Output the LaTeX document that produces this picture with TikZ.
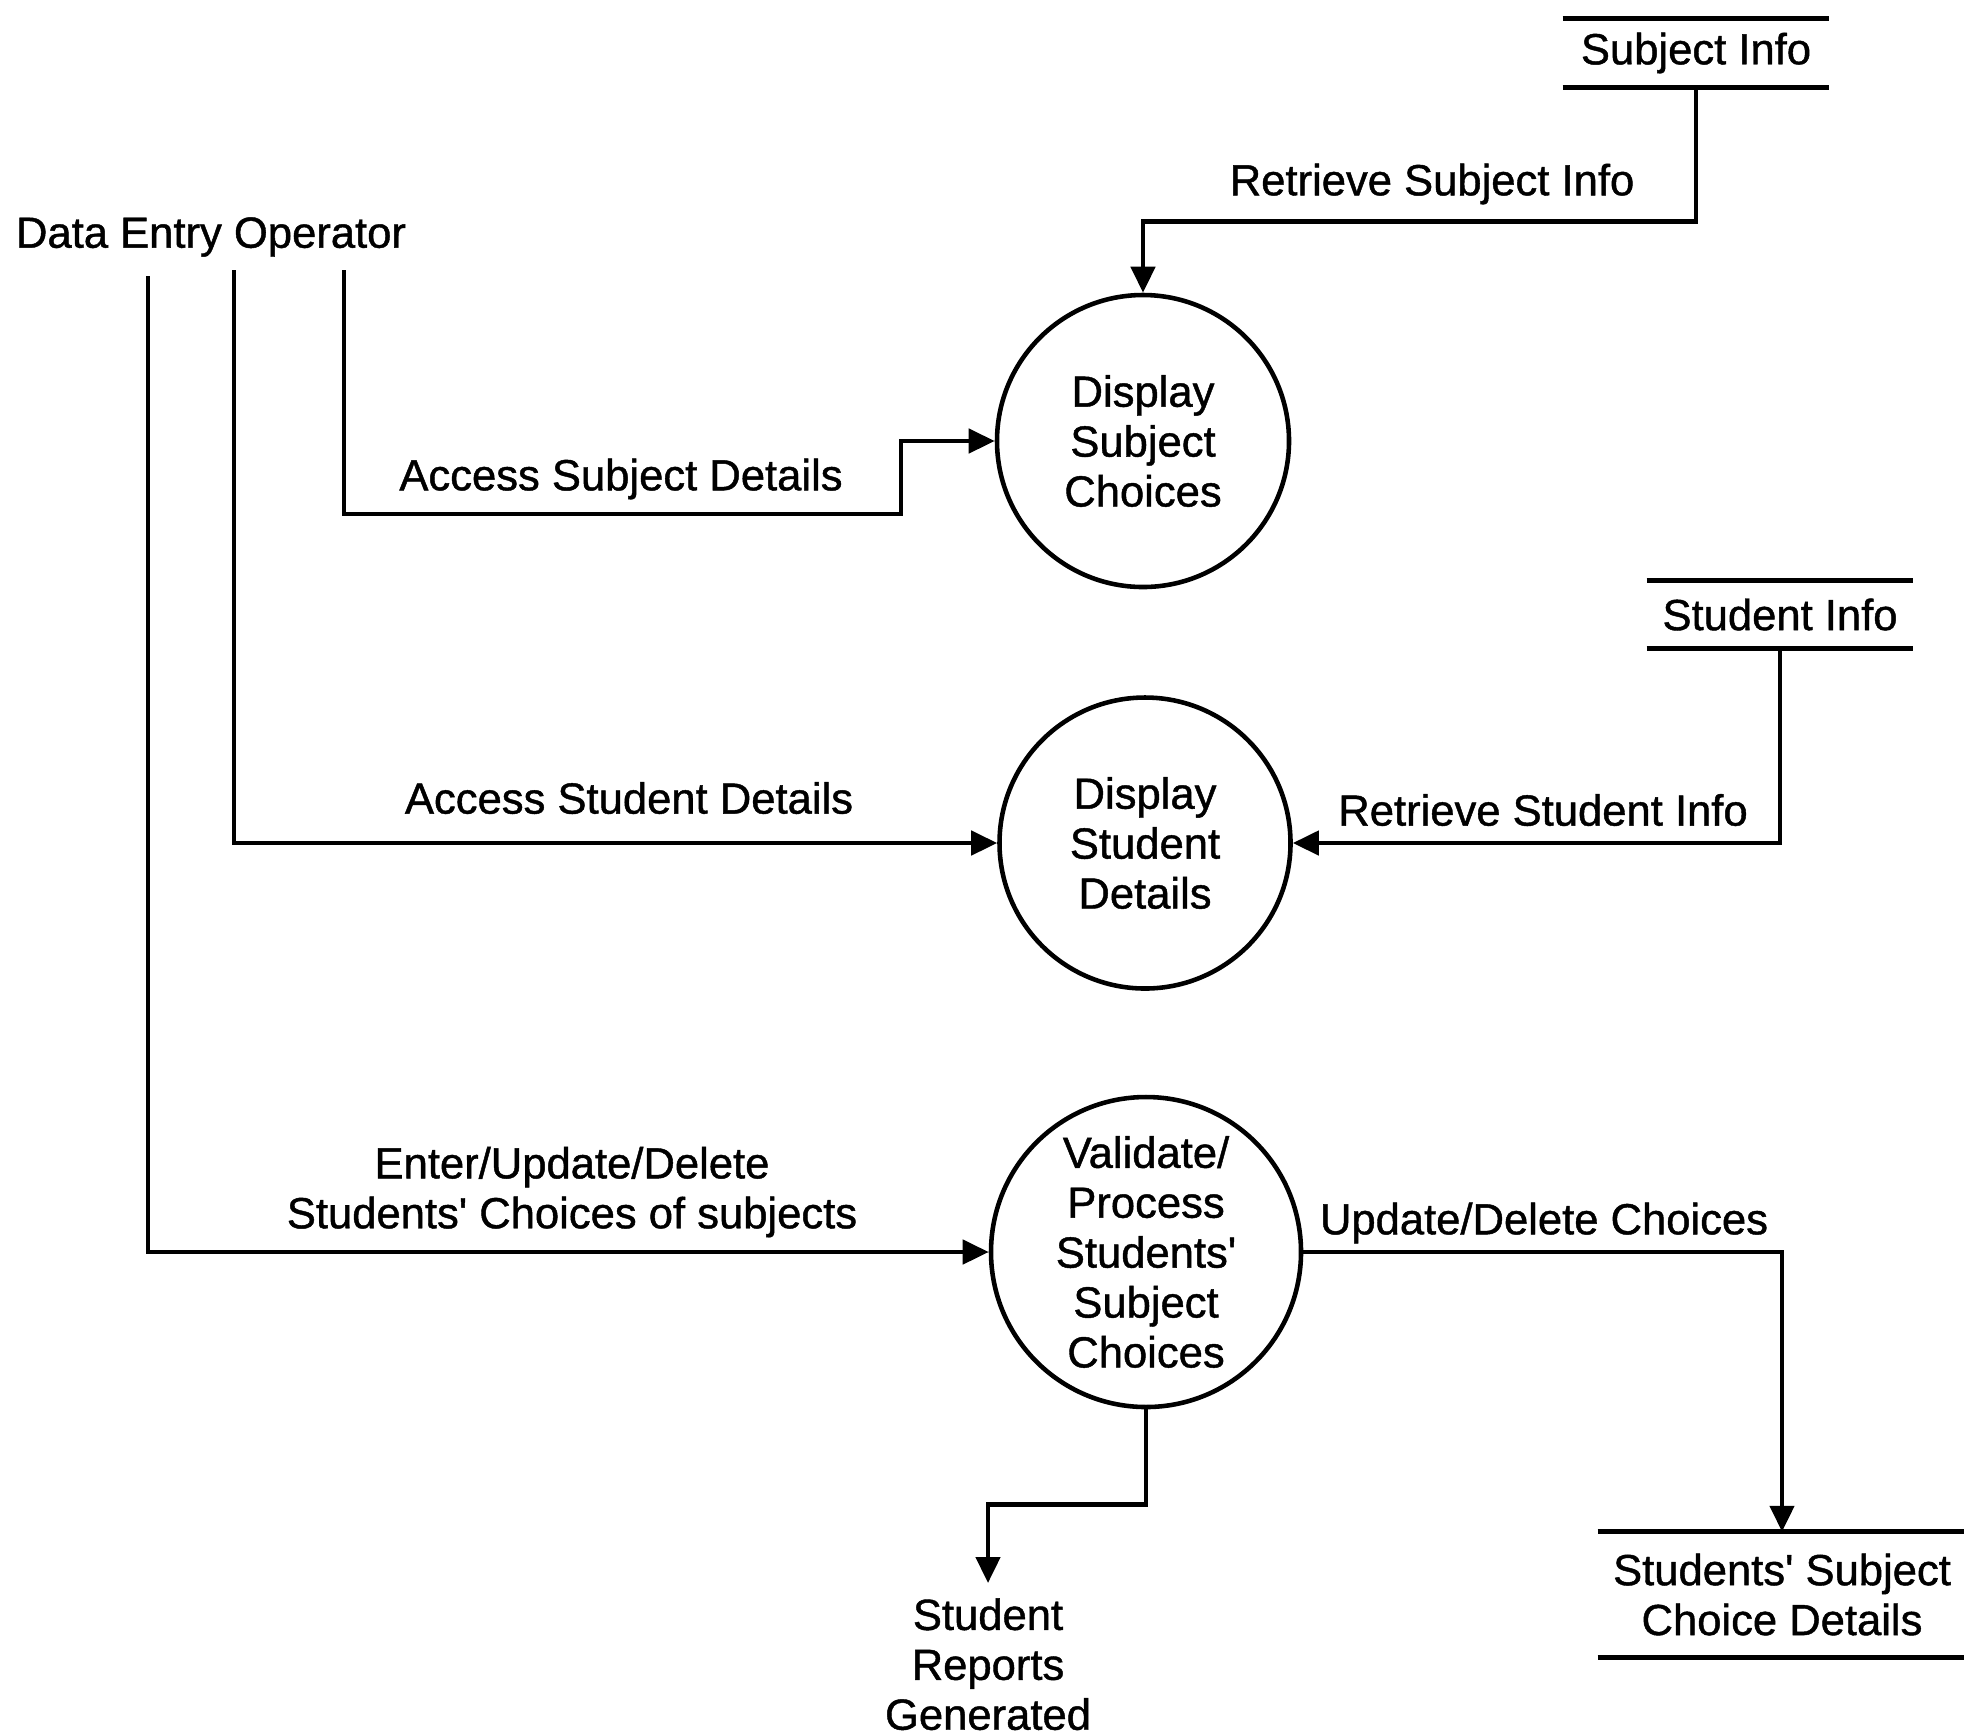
\documentclass[tikz,border=0pt]{standalone}
\usepackage{fontspec}
\setmainfont[FakeBold=1]{Liberation Sans}
\usetikzlibrary{arrows.meta}

\begin{document}
\begin{tikzpicture}[
    line width=1.3pt,
    font=\fontsize{12.4pt}{14.2pt}\selectfont,
    >={Triangle[length=0.26cm,width=0.24cm]},
    process/.style={circle, draw, align=center, inner sep=0pt},
    store/.style={inner sep=0pt, align=center},
    flow/.style={->}
]
    % Page frame
    \useasboundingbox (0,0) rectangle (19.64,-17.34);

    % External entity
    \node (deo) at (2.11,-2.37) {Data Entry Operator};
    \coordinate (deoA) at (1.48,-2.76);
    \coordinate (deoB) at (2.34,-2.70);
    \coordinate (deoC) at (3.44,-2.70);

    % Processes
    \node[process, minimum size=2.92cm] (dsc) at (11.43,-4.41) {Display\\Subject\\Choices};
    \node[process, minimum size=2.91cm] (dsd) at (11.45,-8.43) {Display\\Student\\Details};
    \node[process, minimum size=3.1cm] (vpc) at (11.46,-12.52) {Validate/\\Process\\Students\textquotesingle\\Subject\\Choices};

    % Data stores
    \node[store, minimum width=2.62cm, minimum height=0.64cm] (si) at (16.96,-0.53) {Subject Info};
    \draw (si.north west) -- (si.north east) (si.south west) -- (si.south east);
    \node[store, minimum width=2.62cm, minimum height=0.63cm] (sti) at (17.80,-6.145) {Student Info};
    \draw (sti.north west) -- (sti.north east) (sti.south west) -- (sti.south east);
    \node[store, minimum width=3.64cm, minimum height=1.21cm] (scd) at (17.82,-15.945) {Students\textquotesingle{} Subject\\Choice Details};
    \draw (scd.north west) -- (scd.north east) (scd.south west) -- (scd.south east);

    % Output
    \node[align=center, anchor=north, inner sep=1.3mm] (srg) at (9.88,-15.83) {Student\\Reports\\Generated};

    % Data flows
    \draw[flow] (deoC) |- (9.01,-5.14) |- (dsc.west);
    \draw[flow] (deoB) |- (dsd.west);
    \draw[flow] (deoA) |- (vpc.west);
    \draw[flow] (si.south) -- ++(0,-1.34) -| (dsc.north);
    \draw[flow] (sti.south) |- (dsd.east);
    \draw[flow] (vpc.east) -| (scd.north);
    \draw[flow] (vpc.south) -- ++(0,-0.95) -| (srg.north);

    % Flow labels
    \node (lrsi) at (14.32,-1.84) {Retrieve Subject Info};
    \node (lasd) at (6.21,-4.79) {Access Subject Details};
    \node (lastd) at (6.29,-7.98) {Access Student Details};
    \node (lrsti) at (15.43,-8.10) {Retrieve Student Info};
    \node[align=center] (leud) at (5.72,-11.92) {Enter/Update/Delete\\Students\textquotesingle{} Choices of subjects};
    \node (ludc) at (15.44,-12.23) {Update/Delete Choices};
\end{tikzpicture}
\end{document}
